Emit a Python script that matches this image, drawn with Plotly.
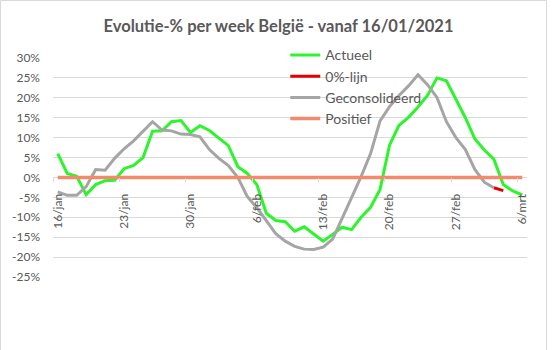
import pandas as pd
import plotly.graph_objects as go

# Daily categories from 16 January to 6 March 2021
days = pd.date_range("2021-01-16", "2021-03-06", freq="D")

# Weekly evolution (%) - current figure
actueel = [6.0, 1.0, 0.3, -4.3, -1.8, -0.8, -0.7, 2.2, 3.0, 5.0,
           11.6, 11.7, 14.0, 14.3, 11.3, 13.0, 11.8, 9.8, 8.0, 2.7,
           1.0, -1.8, -9.0, -10.8, -11.1, -13.5, -12.4, -14.2, -16.0, -14.3,
           -12.5, -13.1, -10.0, -7.5, -3.0, 8.1, 13.1, 15.1, 17.7, 20.6,
           25.0, 24.3, 19.5, 15.0, 9.7, 6.9, 4.6, -1.8, -3.4, -4.4]

# Weekly evolution (%) - consolidated figure
geconsolideerd = [-3.6, -4.5, -4.5, -2.3, 2.0, 1.8, 4.8, 7.2, 9.2, 11.6,
                  14.0, 11.9, 11.7, 10.9, 10.8, 10.2, 7.0, 4.8, 3.0, 0.0,
                  -4.8, -7.6, -10.7, -14.1, -16.0, -17.3, -18.0, -18.1, -17.5, -15.5,
                  -10.3, -5.0, 0.2, 6.0, 14.2, 17.8, 20.6, 23.0, 25.8, 23.3,
                  20.1, 14.0, 10.0, 7.0, 2.0, -1.2, -2.6, None, None, None]

# Last, not yet consolidated stretch
nul_lijn = [None] * 46 + [-2.6, -3.3, None, None]

# Reference line at 0 %
positief = [0.0] * 50

x_tick_dates = ["2021-01-16", "2021-01-23", "2021-01-30", "2021-02-06",
                "2021-02-13", "2021-02-20", "2021-02-27", "2021-03-06"]
x_tick_labels = ["16/jan", "23/jan", "30/jan", "6/feb",
                 "13/feb", "20/feb", "27/feb", "6/mrt"]
y_tick_values = [30, 25, 20, 15, 10, 5, 0, -5, -10, -15, -20, -25]
y_tick_labels = ["30%", "25%", "20%", "15%", "10%", "5%", "0%",
                 "-5%", "-10%", "-15%", "-20%", "-25%"]

TEXT = "#595959"
GRID = "#d9d9d9"
FONT = "Lato, Carlito, Calibri, sans-serif"

fig = go.Figure()
fig.add_trace(go.Scatter(x=days, y=actueel, name="Actueel", mode="lines",
                         line=dict(color="#2cf52c", width=3)))
fig.add_trace(go.Scatter(x=days, y=nul_lijn, name="0%-lijn", mode="lines",
                         line=dict(color="#e80000", width=3)))
fig.add_trace(go.Scatter(x=days, y=geconsolideerd, name="Geconsolideerd", mode="lines",
                         line=dict(color="#a5a5a5", width=3)))
fig.add_trace(go.Scatter(x=days, y=positief, name="Positief", mode="lines",
                         line=dict(color="#f28a6b", width=3.5)))

x_start = days[0] - pd.Timedelta(hours=12)
x_end = days[-1] + pd.Timedelta(hours=12)
x_range = [x_start, x_end]
zero_pos = 25 / 55

# tick marks sit on the category boundaries, one per week
boundary_ticks = [pd.Timestamp(d) - pd.Timedelta(hours=12) for d in x_tick_dates]

fig.update_layout(
    width=557, height=350,
    margin=dict(l=53, r=30, t=58, b=73),
    paper_bgcolor="white", plot_bgcolor="white",
    showlegend=True,
    title=dict(text="<b>Evolutie-% per week België - vanaf 16/01/2021</b>",
               x=0.5, xanchor="center", y=1 - 26.5 / 350, yanchor="middle",
               font=dict(family=FONT, size=16.5, color=TEXT)),
    legend=dict(x=0.49, y=1.085, xanchor="left", yanchor="top",
                bgcolor="rgba(0,0,0,0)", borderwidth=0,
                font=dict(family=FONT, size=14, color=TEXT),
                tracegroupgap=0),
    xaxis=dict(range=x_range, anchor="free", position=zero_pos,
               tickmode="array", tickvals=x_tick_dates, ticktext=x_tick_labels,
               tickangle=-90, ticks="", ticklabelstandoff=13,
               showgrid=False, zeroline=False, showline=False,
               tickfont=dict(family=FONT, size=12, color=TEXT)),
    xaxis2=dict(range=x_range, overlaying="x", anchor="free", position=zero_pos,
                side="bottom", tickmode="array", tickvals=boundary_ticks,
                ticks="outside", ticklen=4, tickcolor=GRID, tickwidth=1,
                showticklabels=False, showgrid=False, zeroline=False, showline=False),
    yaxis=dict(range=[-25, 30], tickmode="array", tickvals=y_tick_values,
               ticktext=y_tick_labels, showgrid=True, gridcolor=GRID, gridwidth=1,
               zeroline=False, showline=False, ticks="", ticklabelstandoff=12,
               tickfont=dict(family=FONT, size=12, color=TEXT)),
    shapes=[dict(type="path", xref="paper", yref="paper",
                 path="M {x0},{y0} L {x0},{y1} L {x1},{y1} L {x1},{y0}".format(
                     x0=(0.5 - 53) / 474, x1=(546.5 - 53) / 474,
                     y0=(277 - 352) / 219, y1=(277 - 0.5) / 219),
                 line=dict(color=GRID, width=1), layer="below")],
)

# invisible helper trace so the boundary tick axis is drawn
fig.add_trace(go.Scatter(x=[x_start, x_end], y=[None, None], xaxis="x2",
                         showlegend=False, hoverinfo="skip"))

fig.write_html("out.html")
